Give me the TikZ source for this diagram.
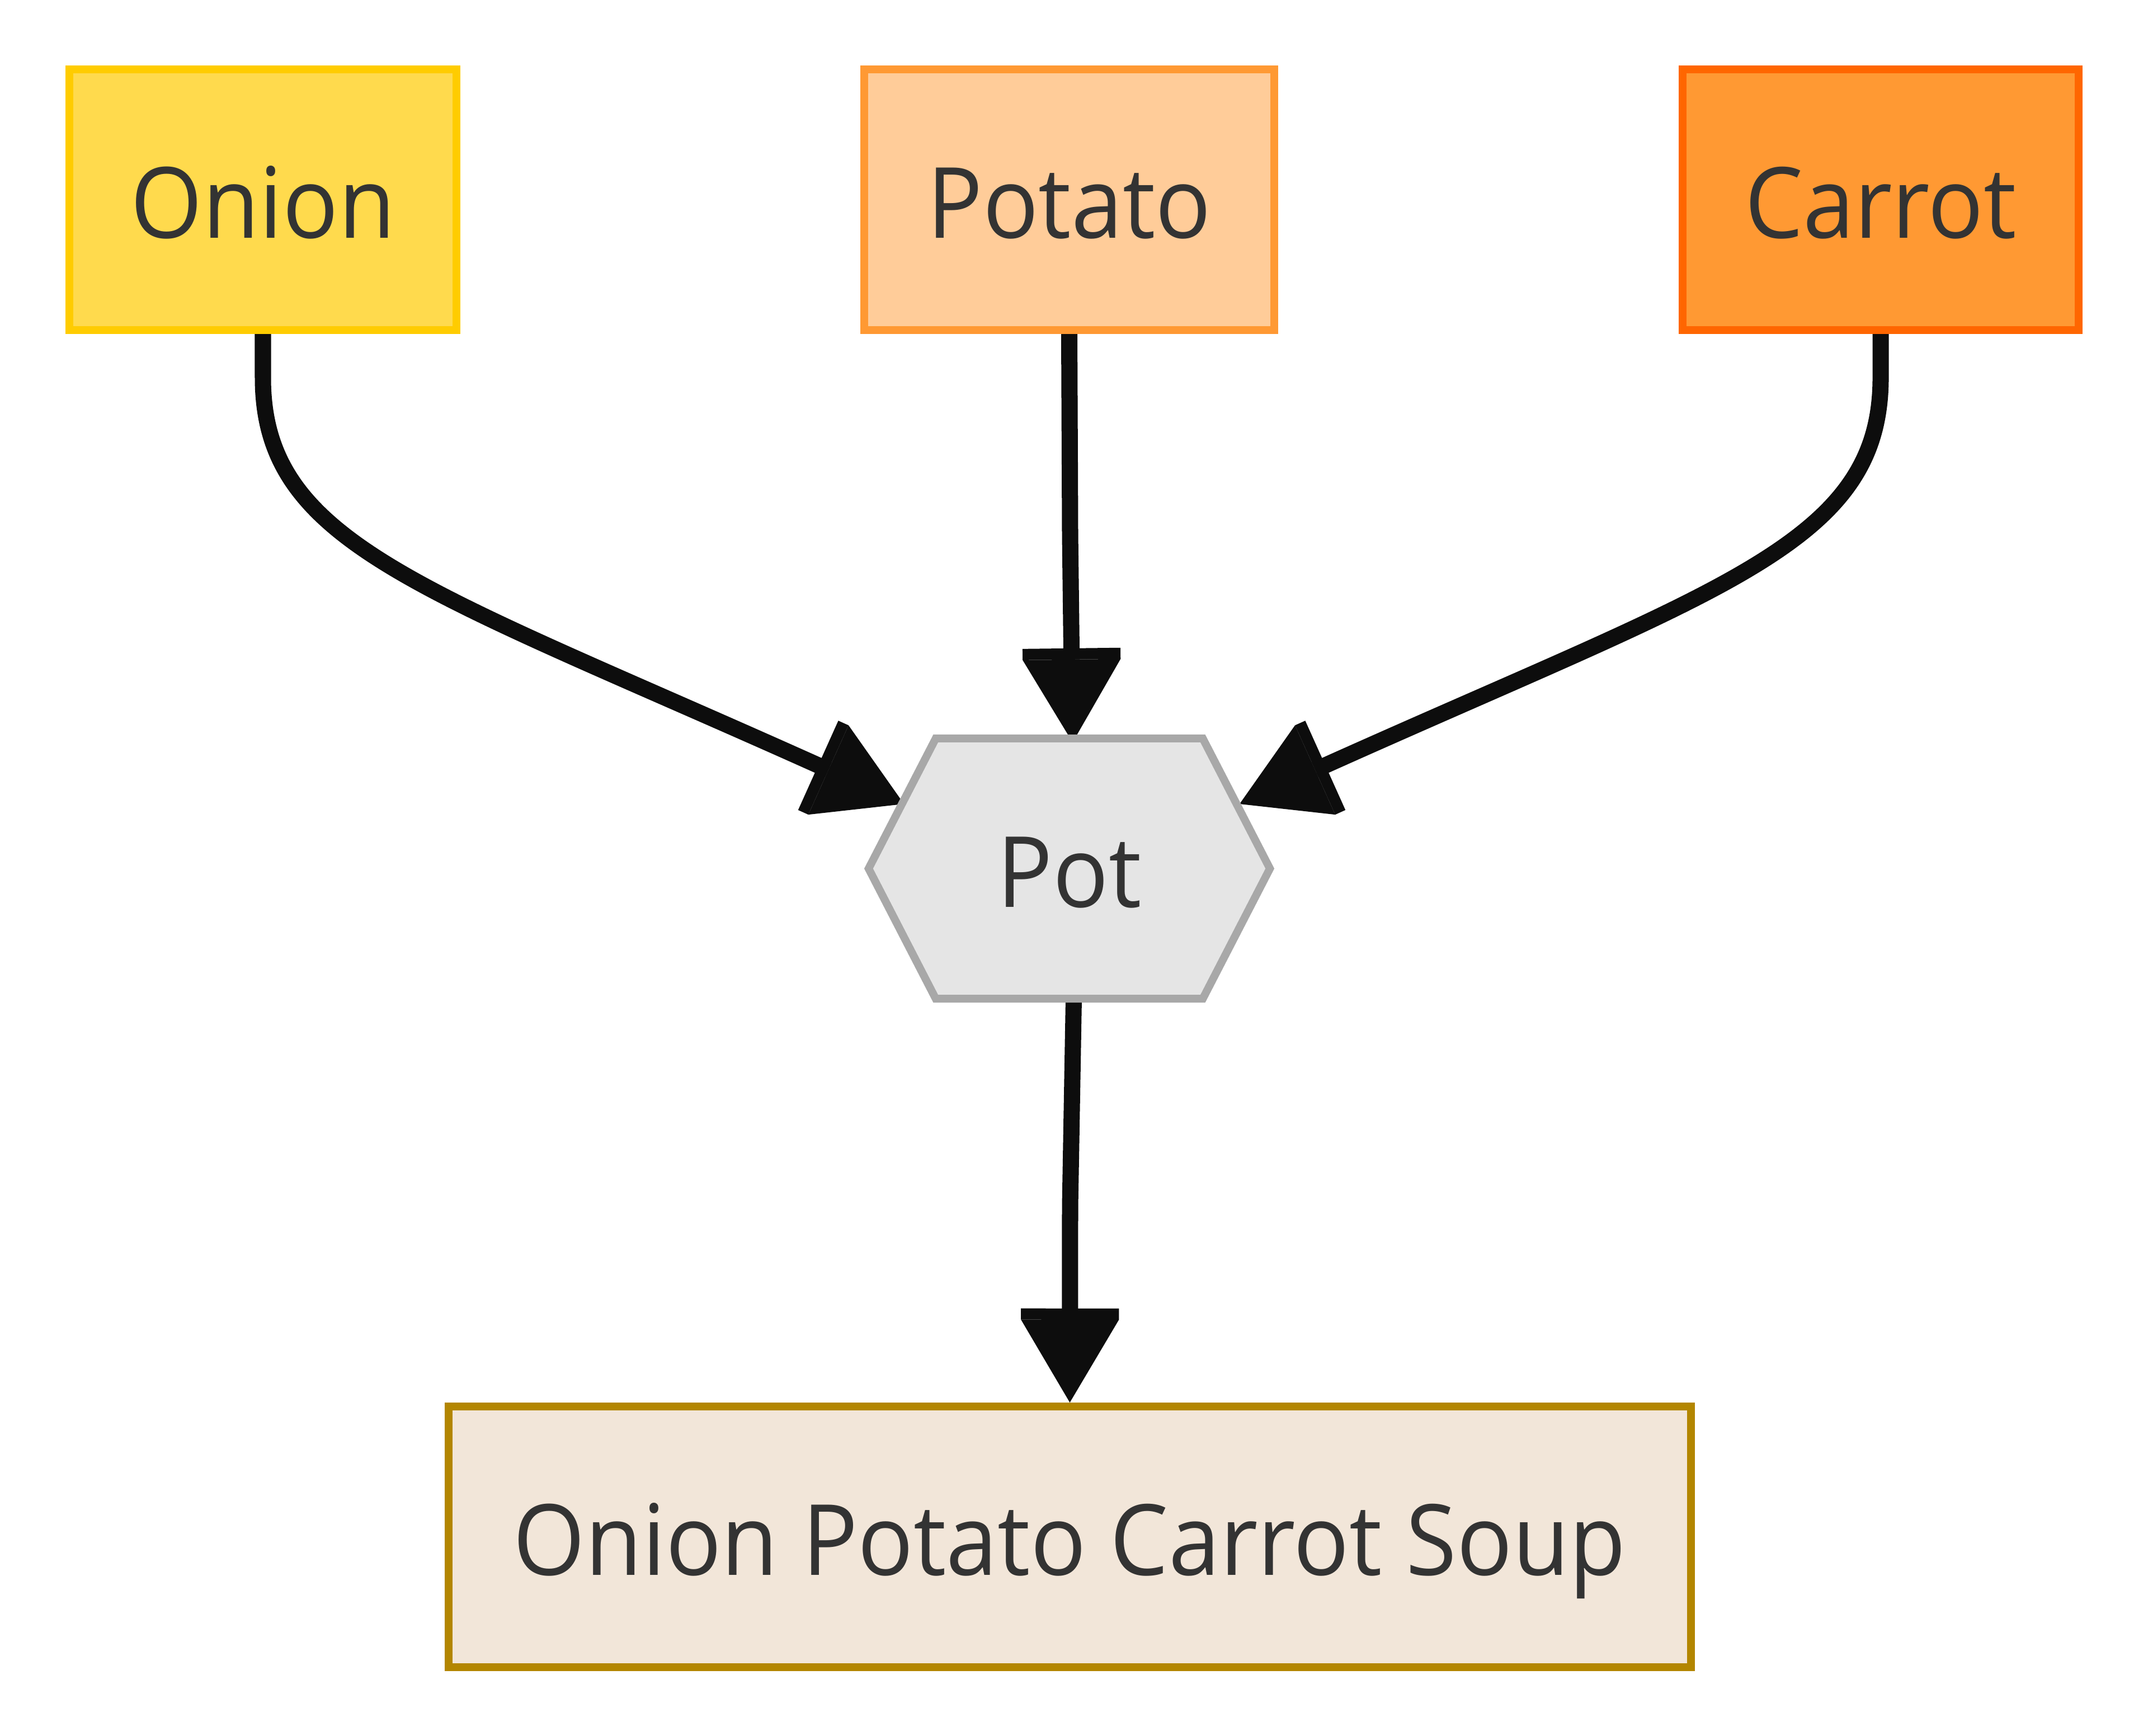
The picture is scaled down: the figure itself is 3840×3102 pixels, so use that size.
\documentclass[tikz,border=0pt]{standalone}
\usepackage{fontspec}
\setmainfont{Open Sans}[FakeStretch=0.94]
\usetikzlibrary{arrows.meta,calc,backgrounds}
\pgfdeclarelayer{edgelayer}
\pgfsetlayers{edgelayer,background,main}
\definecolor{txtc}{HTML}{333333}
\definecolor{edgec}{HTML}{0D0D0D}
\definecolor{onionfill}{HTML}{FFDA4D}
\definecolor{oniondraw}{HTML}{FFCC00}
\definecolor{potatofill}{HTML}{FFCC99}
\definecolor{potatodraw}{HTML}{FF9933}
\definecolor{carrotfill}{HTML}{FF9933}
\definecolor{carrotdraw}{HTML}{FF6600}
\definecolor{potfill}{HTML}{E5E5E5}
\definecolor{potdraw}{HTML}{A8A8A8}
\definecolor{soupfill}{HTML}{F2E6D9}
\definecolor{soupdraw}{HTML}{B38600}
\tikzset{
  lbl/.style={text=txtc, font=\fontsize{50pt}{60pt}\selectfont, text height=39.1pt, text depth=0pt},
  box/.style={rectangle, line width=0.14cm, minimum height=4.66cm, inner sep=0pt, lbl},
  potbox/.style={rectangle, minimum width=7.17cm, minimum height=4.65cm, inner sep=0pt,
    outer sep=0pt, lbl},
  hexline/.style={fill=potfill, draw=potdraw, line width=0.14cm},
  arr/.style={draw=edgec, line width=0.29cm,
    -{Rectangle[length=0.2cm, width=1.75cm, line width=0pt, sep=0pt]Triangle[length=1.48cm, width=1.75cm, line width=0pt]}}
}
\begin{document}
\begin{tikzpicture}[x=0.01cm, y=-0.01cm]
\useasboundingbox (0,0) rectangle (3840,3102);
\node[box, fill=onionfill, draw=oniondraw, minimum width=6.92cm] (onion) at (470,357) {Onion};
\node[box, fill=potatofill, draw=potatodraw, minimum width=7.33cm] (potato) at (1911.5,357) {Potato};
\node[box, fill=carrotfill, draw=carrotdraw, minimum width=7.08cm] (carrot) at (3362,357) {Carrot};
\node[potbox] (pot) at (1911.5,1552.5) {Pot};
\begin{scope}[on background layer]
\path[hexline] (pot.west) -- ($(pot.north west)+(120,0)$) -- ($(pot.north east)+(-120,0)$)
  -- (pot.east) -- ($(pot.south east)+(-120,0)$) -- ($(pot.south west)+(120,0)$) -- cycle;
\end{scope}
\node[box, fill=soupfill, draw=soupdraw, minimum width=22.19cm] (soup) at (1912.5,2747) {Onion Potato Carrot Soup};
\coordinate (tipL) at ($(pot)+(-295.5,-115.5)$);
\coordinate (tipR) at ($(pot)+(304.5,-115.5)$);
\coordinate (tipT) at ($(pot.north)+(6,7)$);
\coordinate (potout) at ($(pot.south)+(8,0)$);
\begin{pgfonlayer}{edgelayer}
\draw[arr] (onion.south) -- ++(0,78) .. controls ++(0,300) and (756,1050) .. (tipL);
\draw[arr] (carrot.south) -- ++(0,78) .. controls ++(0,300) and (3076,1050) .. (tipR);
\draw[arr] (potato.south) -- (1913,955) -- (tipT);
\draw[arr] (potout) -- (1913,2155) -- (soup.north);
\end{pgfonlayer}
\end{tikzpicture}
\end{document}
